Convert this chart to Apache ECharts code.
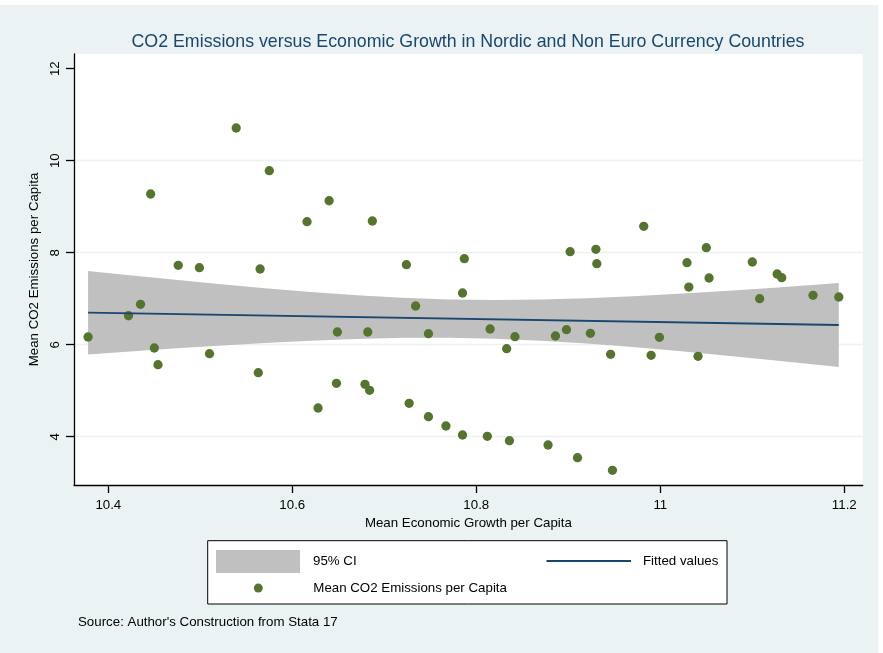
<!DOCTYPE html>
<html>
<head>
<meta charset="utf-8">
<script src="https://cdn.jsdelivr.net/npm/echarts@6/dist/echarts.min.js"></script>
<style>
  html, body { margin: 0; padding: 0; background: #ffffff; }
  #chart { position: absolute; left: 0; top: 5px; width: 878px; height: 648px; }
</style>
</head>
<body>
<div id="chart"></div>
<script>
// Country means: economic growth (x) and CO2 emissions (y), per capita
const growth = [
  10.378, 10.422, 10.435, 10.446, 10.450, 10.454, 10.476, 10.499, 10.510, 10.539,
  10.563, 10.565, 10.575, 10.616, 10.628, 10.640, 10.649, 10.648, 10.679, 10.682,
  10.684, 10.687, 10.724, 10.727, 10.734, 10.748, 10.748, 10.767, 10.785, 10.785,
  10.787, 10.812, 10.815, 10.833, 10.836, 10.842, 10.878, 10.886, 10.898, 10.902,
  10.910, 10.924, 10.930, 10.931, 10.946, 10.948, 10.982, 10.990, 10.999, 11.029,
  11.031, 11.041, 11.050, 11.053, 11.100, 11.108, 11.127, 11.132, 11.166, 11.194
];
const co2 = [
  6.167, 6.630, 6.878, 9.276, 5.928, 5.565, 7.726, 7.674, 5.804, 10.711,
  5.391, 7.646, 9.783, 8.674, 4.624, 9.130, 6.276, 5.161, 5.139, 6.276,
  5.009, 8.689, 7.739, 4.726, 6.841, 6.239, 4.435, 4.233, 4.037, 7.124,
  7.870, 4.009, 6.341, 5.913, 3.913, 6.174, 3.820, 6.189, 6.326, 8.022,
  3.543, 6.248, 8.074, 7.761, 5.791, 3.270, 8.574, 5.770, 6.161, 7.783,
  7.254, 5.748, 8.109, 7.450, 7.798, 7.000, 7.537, 7.457, 7.074, 7.037
];

// Linear fit end points
const fitX = [10.378, 11.194];
const fitY = [6.696, 6.428];

// 95% confidence band of the fit (lower / upper bound at each x)
const ciX = [10.378, 10.42, 10.47, 10.52, 10.57, 10.62, 10.67, 10.72, 10.77,
             10.82, 10.87, 10.92, 10.97, 11.02, 11.07, 11.12, 11.194];
const ciLower = [5.787, 5.846, 5.915, 5.978, 6.037, 6.088, 6.126, 6.149, 6.151,
                 6.131, 6.087, 6.025, 5.949, 5.861, 5.768, 5.669, 5.517];
const ciUpper = [7.605, 7.518, 7.417, 7.320, 7.229, 7.146, 7.074, 7.019, 6.983,
                 6.971, 6.981, 7.011, 7.055, 7.109, 7.170, 7.235, 7.339];

const xTicks = [10.4, 10.6, 10.8, 11, 11.2];
const yTicks = [4, 6, 8, 10, 12];
const yGridLines = [4, 6, 8, 10];

const titleText = 'CO2 Emissions versus Economic Growth in Nordic and Non Euro Currency Countries';
const xName = 'Mean Economic Growth per Capita';
const yName = 'Mean CO2 Emissions per Capita';
const sourceNote = "Source: Author's Construction from Stata 17";

const FONT = '"Liberation Sans", Arial, Helvetica, sans-serif';
const BG = '#EAF2F3';
const NAVY = '#1A476F';
const GREEN = '#55752F';
const CI_GREY = '#C0C0C0';

const chart = echarts.init(document.getElementById('chart'), null, { renderer: 'canvas' });

const axisText = { color: '#000', fontFamily: FONT, fontSize: 13.3 };
const legendText = { color: '#000', fontFamily: FONT, fontSize: 13.3 };

// Band polygon: upper edge left-to-right, then lower edge right-to-left
function renderBand(params, api) {
  if (params.dataIndex !== 0) return null;
  const pts = [];
  for (let i = 0; i < ciX.length; i++) pts.push(api.coord([ciX[i], ciUpper[i]]));
  for (let i = ciX.length - 1; i >= 0; i--) pts.push(api.coord([ciX[i], ciLower[i]]));
  return { type: 'polygon', shape: { points: pts }, style: { fill: CI_GREY } };
}

const option = {
  backgroundColor: BG,
  animation: false,
  title: [
    {
      text: titleText,
      left: 468, top: 28, textAlign: 'center', padding: 0,
      textStyle: { color: NAVY, fontFamily: FONT, fontSize: 17.8, fontWeight: 'normal' }
    },
    {
      text: sourceNote,
      left: 78, top: 611, padding: 0,
      textStyle: { color: '#000', fontFamily: FONT, fontSize: 13.3, fontWeight: 'normal' }
    }
  ],
  grid: {
    left: 74, top: 49, right: 15.3, bottom: 168,
    show: true, backgroundColor: '#ffffff', borderWidth: 0
  },
  xAxis: {
    type: 'value',
    min: 10.3627, max: 11.22,
    name: xName, nameLocation: 'middle', nameGap: 29,
    nameTextStyle: axisText,
    axisLine: { show: true, onZero: false, lineStyle: { color: '#000', width: 1.3 } },
    axisTick: { show: true, length: 8, lineStyle: { color: '#000', width: 1.3 }, customValues: xTicks },
    axisLabel: { ...axisText, margin: 14, customValues: xTicks },
    splitLine: { show: false }
  },
  yAxis: [
    {
      type: 'value',
      min: 2.95, max: 12.32,
      name: yName, nameLocation: 'middle', nameGap: 27.3,
      nameTextStyle: axisText,
      axisLine: { show: true, onZero: false, lineStyle: { color: '#000', width: 1.3 } },
      axisTick: { show: true, length: 8, lineStyle: { color: '#000', width: 1.3 }, customValues: yTicks },
      axisLabel: { ...axisText, margin: 12.3, rotate: 90, customValues: yTicks },
      splitLine: { show: false }
    },
    {
      // horizontal grid lines only
      type: 'value',
      min: 2.95, max: 12.32,
      position: 'left',
      axisLine: { show: false },
      axisTick: { show: false, customValues: yGridLines },
      axisLabel: { show: false, customValues: yGridLines },
      splitLine: { show: true, lineStyle: { color: BG, width: 1.4 } }
    }
  ],
  graphic: [
    {
      type: 'rect', z: 1,
      shape: { x: 207.7, y: 535.7, width: 519.3, height: 63.3 },
      style: { fill: '#ffffff', stroke: '#000', lineWidth: 1 }
    }
  ],
  legend: [
    {
      data: [{ name: '95% CI', icon: 'rect' }],
      left: 216, top: 545, padding: 0, z: 5,
      itemWidth: 84, itemHeight: 23,
      textStyle: { ...legendText, padding: [0, 0, 0, 8] },
      selectedMode: false
    },
    {
      data: [{ name: 'Fitted values', icon: 'rect' }],
      left: 546.5, top: 549.5, padding: 0, z: 5,
      itemWidth: 84.5, itemHeight: 2,
      textStyle: { ...legendText, padding: [0, 0, 0, 7] },
      selectedMode: false
    },
    {
      data: [{ name: 'Mean CO2 Emissions per Capita', icon: 'circle' }],
      left: 253.8, top: 576.6, padding: 0, z: 5,
      itemWidth: 9, itemHeight: 9,
      textStyle: { ...legendText, padding: [0, 0, 0, 45.5] },
      selectedMode: false
    }
  ],
  series: [
    {
      name: '95% CI',
      type: 'custom',
      silent: true,
      itemStyle: { color: CI_GREY },
      encode: { x: 0, y: [1, 2] },
      data: ciX.map((x, i) => [x, ciLower[i], ciUpper[i]]),
      renderItem: renderBand
    },
    {
      name: 'Fitted values',
      type: 'line',
      symbol: 'none',
      silent: true,
      itemStyle: { color: NAVY },
      lineStyle: { color: NAVY, width: 1.8 },
      data: fitX.map((x, i) => [x, fitY[i]])
    },
    {
      name: 'Mean CO2 Emissions per Capita',
      type: 'scatter',
      symbol: 'circle',
      symbolSize: 9.3,
      itemStyle: { color: GREEN, opacity: 1 },
      data: growth.map((x, i) => [x, co2[i]])
    }
  ]
};

chart.setOption(option);
</script>
</body>
</html>
